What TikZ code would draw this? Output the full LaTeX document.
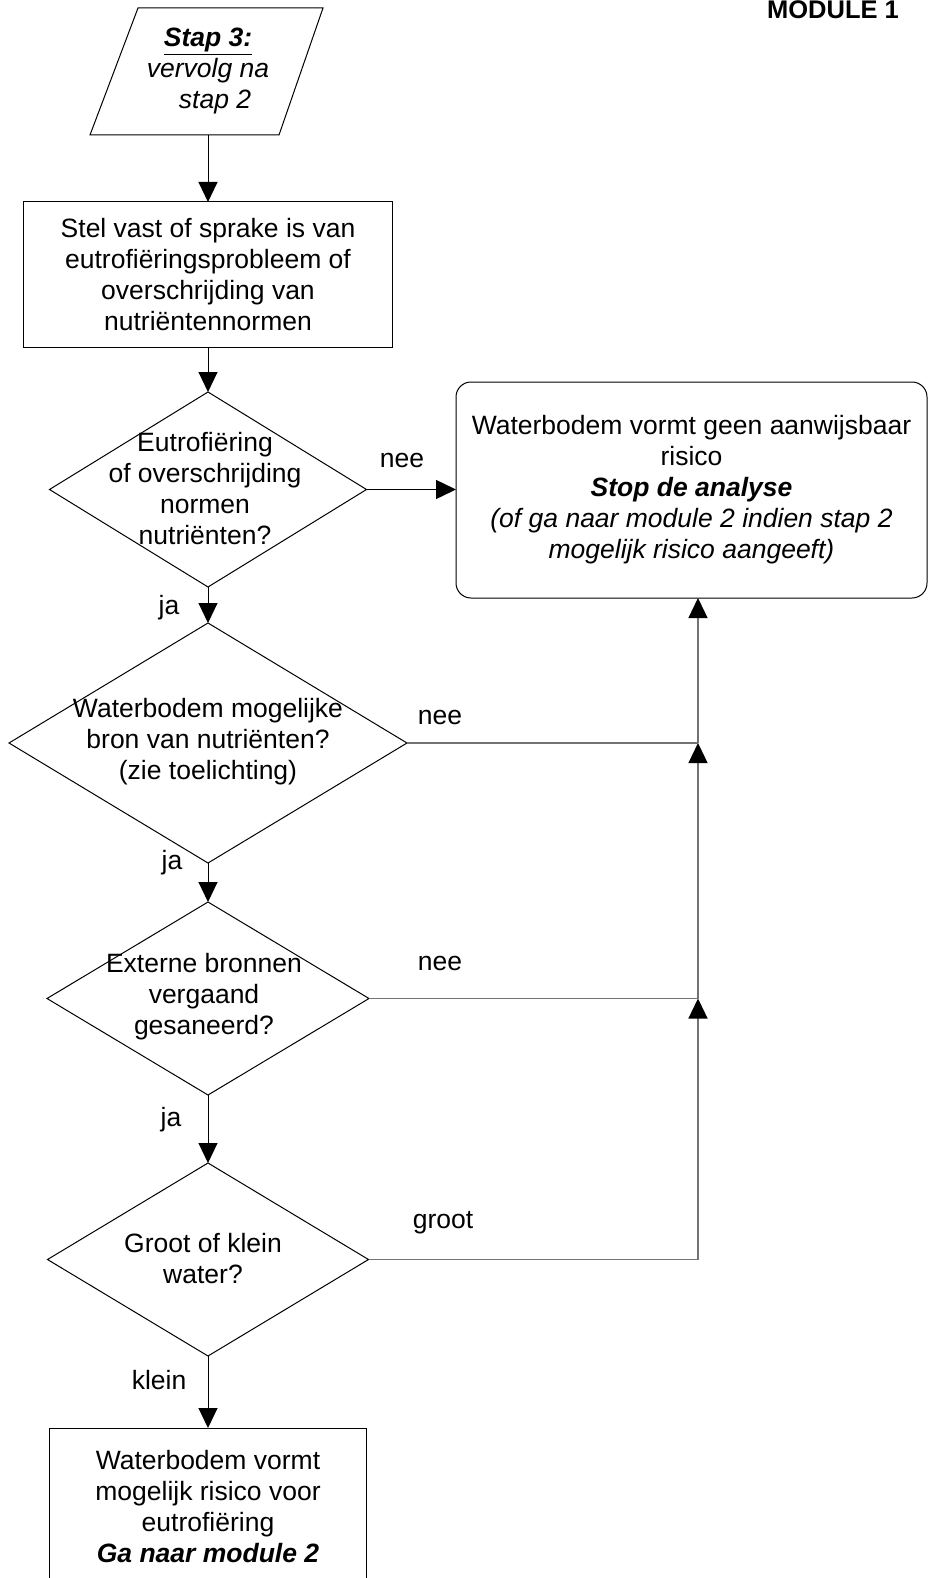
\documentclass[tikz,border=0pt]{standalone}
\usepackage{fontspec}
\setmainfont{Liberation Sans}
\usetikzlibrary{shapes.geometric,arrows.meta}

\begin{document}
\begin{tikzpicture}[x=1pt,y=-1pt,
  every node/.style={font=\fontsize{26.5}{31}\selectfont},
  box/.style={draw,line width=1pt,align=center,inner sep=0pt,outer sep=0pt},
  dia/.style={draw,diamond,line width=1pt,inner sep=0pt,outer sep=0pt},
  txt/.style={align=center,inner sep=0pt},
  lab/.style={inner sep=0pt},
  flow/.style={line width=1pt,-{Triangle[length=20pt,width=19pt]}},
  side/.style={line width=1.3pt,draw=black!55},
  sidearr/.style={side,-{Triangle[length=20pt,width=19pt,color=black]}}]

% page frame
\fill[white] (0,0) rectangle (929,1578);
\clip (0,0) rectangle (929,1578);

% heading
\node[anchor=base,inner sep=0pt,font=\bfseries\fontsize{25.5}{30}\selectfont] (mod) at (833,19) {MODULE 1};

% start (parallelogram)
\draw[line width=1pt] (138,8) -- (323,8) -- (279,135) -- (90,135) -- cycle;
\node[txt,minimum height=127] (start) at (208,71.5)
  {\underline{\textbf{\textit{Stap 3:}}}\\\textit{vervolg na}\\\hspace*{14pt}\textit{stap 2}};

% process box
\node[box,minimum width=369,minimum height=145] (rect1) at (208,274.5)
  {Stel vast of sprake is van\\eutrofiëringsprobleem of\\overschrijding van\\nutriëntennormen};

% decisions
\node[dia,minimum width=317,minimum height=195] (d1) at (208,489.5) {};
\node[txt] (d1t) at (205,489) {Eutrofiëring\\of overschrijding\\normen\\nutriënten?};

\node[dia,minimum width=398,minimum height=240] (d2) at (208,743) {};
\node[txt] (d2t) at (208,742) {Waterbodem mogelijke\\bron van nutriënten?\\(zie toelichting)};

\node[dia,minimum width=322,minimum height=193] (d3) at (208,998.5) {};
\node[txt] (d3t) at (204,997) {Externe bronnen\\vergaand\\gesaneerd?};

\node[dia,minimum width=321,minimum height=193] (d4) at (208,1259.5) {};
\node[txt] (d4t) at (203,1259) {Groot of klein\\water?};

% outcomes
\node[box,rounded corners=15pt,minimum width=471,minimum height=216] (stop) at (691.5,490)
  {Waterbodem vormt geen aanwijsbaar\\risico\\\textbf{\textit{Stop de analyse}}\\
   \textit{(of ga naar module 2 indien stap 2}\\\textit{mogelijk risico aangeeft)}};

\node[box,minimum width=317,minimum height=158] (end) at (208,1507)
  {Waterbodem vormt\\mogelijk risico voor\\eutrofiëring\\\textbf{\textit{Ga naar module 2}}};

% main flow
\draw[flow] (start.south) -- (rect1.north);
\draw[flow] (rect1.south) -- (d1.north);
\draw[flow] (d1.south) -- (d2.north);
\draw[flow] (d2.south) -- (d3.north);
\draw[flow] (d3.south) -- (d4.north);
\draw[flow] (d4.south) -- (end.north);
\draw[flow,line width=1.4pt] (d1.east) -- (d1.east -| stop.west);

% return line on the right
\coordinate (j1) at (698,743);
\coordinate (j2) at (698,998.5);
\coordinate (j3) at (698,1259.5);
\draw[side] (d2.east) -- (j1);
\draw[side] (d3.east) -- (j2);
\draw[side] (d4.east) -- (j3);
\draw[sidearr] (j3) -- (j2);
\draw[sidearr] (j2) -- (j1);
\draw[sidearr] (j1) -- (j1 |- stop.south);

% branch labels
\node[lab] (l1) at (402,460) {nee};
\node[lab] (l2) at (169,608) {ja};
\node[lab] (l3) at (440,717) {nee};
\node[lab] (l4) at (172,863) {ja};
\node[lab] (l5) at (440,963) {nee};
\node[lab] (l6) at (171,1120) {ja};
\node[lab] (l7) at (443,1223) {groot};
\node[lab] (l8) at (159,1380) {klein};
\end{tikzpicture}
\end{document}
